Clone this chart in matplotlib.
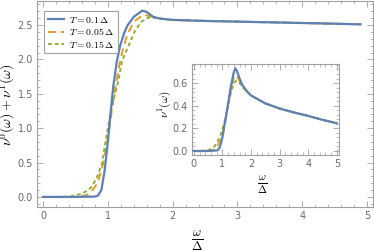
import matplotlib
matplotlib.use("Agg")
import matplotlib.pyplot as plt
from matplotlib.ticker import MultipleLocator

plt.rcParams["mathtext.fontset"] = "cm"

# main panel: nu0 + nu1
blue_x = [0, 0.5, 0.8, 0.85, 0.9, 0.95, 1.0, 1.05, 1.085, 1.14, 1.19, 1.25, 1.3, 1.4, 1.53,
          1.6, 1.7, 1.8, 2.0, 2.5, 3.0, 3.5, 4.0, 4.5, 4.9]
blue_y = [0, 0, 0.005, 0.02, 0.1, 0.38, 0.8, 1.3, 1.62, 1.98, 2.2, 2.38, 2.49, 2.62, 2.71,
          2.69, 2.62, 2.595, 2.575, 2.56, 2.55, 2.54, 2.53, 2.52, 2.51]
orange_x = [0, 0.4, 0.5, 0.6, 0.68, 0.75, 0.84, 0.93, 1.0, 1.06, 1.12, 1.18, 1.24, 1.3, 1.4,
            1.55, 1.65, 1.8, 2.0, 2.5, 3.0, 3.5, 4.0, 4.5, 4.9]
orange_y = [0, 0, 0.002, 0.01, 0.03, 0.08, 0.2, 0.49, 0.85, 1.25, 1.62, 1.93, 2.18, 2.36, 2.55,
            2.65, 2.63, 2.595, 2.575, 2.56, 2.55, 2.54, 2.53, 2.52, 2.51]
green_x = [0, 0.3, 0.4, 0.5, 0.6, 0.7, 0.75, 0.83, 0.91, 0.99, 1.07, 1.16, 1.22, 1.32, 1.42,
           1.52, 1.63, 1.75, 1.9, 2.0, 2.5, 3.0, 3.5, 4.0, 4.5, 4.9]
green_y = [0, 0, 0.005, 0.02, 0.05, 0.1, 0.15, 0.28, 0.49, 0.95, 1.35, 1.68, 1.98, 2.2, 2.42,
           2.55, 2.61, 2.6, 2.58, 2.575, 2.56, 2.55, 2.54, 2.53, 2.52, 2.51]

# inset: nu1
in_blue_x = [0, 0.5, 0.8, 0.85, 0.9, 0.95, 1.0, 1.05, 1.1, 1.2, 1.3, 1.4, 1.45, 1.5, 1.6,
             1.7, 1.85, 2.0, 2.5, 3.0, 3.5, 4.0, 4.5, 5.0]
in_blue_y = [0, 0, 0.005, 0.01, 0.03, 0.07, 0.12, 0.2, 0.27, 0.42, 0.58, 0.70, 0.73, 0.71, 0.64,
             0.58, 0.53, 0.49, 0.42, 0.375, 0.34, 0.31, 0.275, 0.245]
in_orange_x = [0, 0.5, 0.6, 0.7, 0.8, 0.9, 1.0, 1.1, 1.2, 1.3, 1.4, 1.48, 1.6, 1.7, 1.85,
               2.0, 2.5, 3.0, 3.5, 4.0, 4.5, 5.0]
in_orange_y = [0, 0.002, 0.005, 0.015, 0.04, 0.08, 0.14, 0.27, 0.41, 0.55, 0.65, 0.67, 0.62, 0.57,
               0.53, 0.49, 0.42, 0.375, 0.34, 0.31, 0.275, 0.245]
in_green_x = [0, 0.4, 0.5, 0.6, 0.7, 0.8, 0.9, 1.0, 1.1, 1.2, 1.3, 1.4, 1.5, 1.6, 1.7,
              1.85, 2.0, 2.5, 3.0, 3.5, 4.0, 4.5, 5.0]
in_green_y = [0, 0.003, 0.008, 0.018, 0.035, 0.07, 0.12, 0.19, 0.29, 0.41, 0.52, 0.60, 0.625, 0.60,
              0.565, 0.525, 0.49, 0.42, 0.375, 0.34, 0.31, 0.275, 0.245]

labels = [r"$T = 0.1\,\Delta$", r"$T = 0.05\,\Delta$", r"$T = 0.15\,\Delta$"]
c_blue, c_orange, c_green = "#5E81B5", "#E19C24", "#8FB032"
frame_col = "#a0a0a0"
tick_col = "#6a6a6a"


def style(ax, ymaj):
    for s in ax.spines.values():
        s.set_color(frame_col)
        s.set_linewidth(0.8)
    ax.tick_params(which="both", direction="in", top=True, right=True,
                   color=frame_col, labelcolor=tick_col, labelsize=7, pad=3)
    ax.tick_params(which="major", length=4, width=0.6)
    ax.tick_params(which="minor", length=2, width=0.5)
    ax.xaxis.set_major_locator(MultipleLocator(1))
    ax.xaxis.set_minor_locator(MultipleLocator(0.2))
    ax.yaxis.set_major_locator(MultipleLocator(ymaj))
    ax.yaxis.set_minor_locator(MultipleLocator(ymaj / 5))
    ax.yaxis.set_major_formatter(matplotlib.ticker.FormatStrFormatter("%.1f"))


fig = plt.figure(figsize=(3.74, 2.52), dpi=100)
ax = fig.add_axes([0.099, 0.179, 0.898, 0.817])
ax.plot(blue_x, blue_y, color=c_blue, lw=1.6, label=labels[0], zorder=3)
ax.plot(orange_x, orange_y, color=c_orange, lw=1.4, ls=(0, (4, 2.5)), label=labels[1])
ax.plot(green_x, green_y, color=c_green, lw=1.4, ls=(0, (2, 1.5)), label=labels[2])
ax.set_xlim(-0.093, 5.09)
ax.set_ylim(-0.145, 2.85)
style(ax, 0.5)
leg = ax.legend(loc="upper left", bbox_to_anchor=(0.022, 0.95), fontsize=7, frameon=True,
                fancybox=False, handlelength=1.7, handletextpad=0.5, borderpad=0.35,
                labelspacing=0.15, borderaxespad=0)
leg.get_frame().set_edgecolor("#888888")
leg.get_frame().set_linewidth(0.8)
fig.text(0.022, 0.585, r"$\nu^0(\omega)+\nu^1(\omega)$", rotation=90, fontsize=10,
         ha="center", va="center")
fig.text(0.527, 0.045, r"$\frac{\omega}{\Delta}$", fontsize=13, ha="center", va="center")

ins = fig.add_axes([0.513, 0.385, 0.393, 0.361])
ins.plot(in_blue_x, in_blue_y, color=c_blue, lw=1.6, zorder=3)
ins.plot(in_orange_x, in_orange_y, color=c_orange, lw=1.4, ls=(0, (4, 2.5)))
ins.plot(in_green_x, in_green_y, color=c_green, lw=1.4, ls=(0, (2, 1.5)))
ins.set_xlim(-0.07, 5.07)
ins.set_ylim(-0.035, 0.768)
style(ins, 0.2)
fig.text(0.44, 0.585, r"$\nu^1(\omega)$", rotation=90, fontsize=8, ha="center", va="center")
fig.text(0.703, 0.265, r"$\frac{\omega}{\Delta}$", fontsize=11, ha="center", va="center")

fig.savefig("out.png", dpi=100)
